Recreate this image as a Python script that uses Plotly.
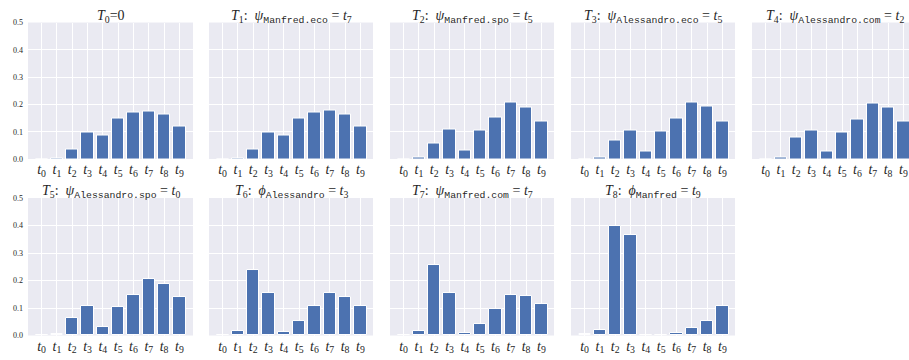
import plotly.graph_objects as go

# Bar categories t0..t9 and the probability distribution for each panel
categories = [f"t{i}" for i in range(10)]
tick_labels = [f"<i>t</i><sub>{i}</sub>" for i in range(10)]

T0 = [0.000, 0.002, 0.034, 0.096, 0.086, 0.148, 0.169, 0.175, 0.163, 0.120]
T1 = [0.000, 0.003, 0.033, 0.096, 0.087, 0.149, 0.170, 0.176, 0.163, 0.120]
T2 = [0.000, 0.006, 0.057, 0.108, 0.031, 0.105, 0.151, 0.207, 0.189, 0.139]
T3 = [0.000, 0.006, 0.069, 0.106, 0.029, 0.099, 0.147, 0.206, 0.191, 0.139]
T4 = [0.000, 0.007, 0.077, 0.106, 0.028, 0.097, 0.146, 0.205, 0.189, 0.138]
T5 = [0.000, 0.006, 0.063, 0.109, 0.031, 0.103, 0.149, 0.205, 0.187, 0.139]
T6 = [0.002, 0.016, 0.239, 0.154, 0.012, 0.054, 0.106, 0.154, 0.140, 0.106]
T7 = [0.002, 0.016, 0.255, 0.155, 0.008, 0.043, 0.096, 0.148, 0.144, 0.114]
T8 = [0.004, 0.019, 0.397, 0.366, 0.000, 0.001, 0.008, 0.026, 0.053, 0.106]

TT = "font-family:'Liberation Mono', monospace"


def sub_tt(s):
    return f"<sub><span style=\"{TT}\">{s}</span></sub>"


titles = [
    "<i>T</i><sub>0</sub>=0",
    f"<i>T</i><sub>1</sub>:  <i>ψ</i>{sub_tt('Manfred.eco')} = <i>t</i><sub>7</sub>",
    f"<i>T</i><sub>2</sub>:  <i>ψ</i>{sub_tt('Manfred.spo')} = <i>t</i><sub>5</sub>",
    f"<i>T</i><sub>3</sub>:  <i>ψ</i>{sub_tt('Alessandro.eco')} = <i>t</i><sub>5</sub>",
    f"<i>T</i><sub>4</sub>:  <i>ψ</i>{sub_tt('Alessandro.com')} = <i>t</i><sub>2</sub>",
    f"<i>T</i><sub>5</sub>:  <i>ψ</i>{sub_tt('Alessandro.spo')} = <i>t</i><sub>0</sub>",
    f"<i>T</i><sub>6</sub>:  <i>ϕ</i>{sub_tt('Alessandro')} = <i>t</i><sub>3</sub>",
    f"<i>T</i><sub>7</sub>:  <i>ψ</i>{sub_tt('Manfred.com')} = <i>t</i><sub>7</sub>",
    f"<i>T</i><sub>8</sub>:  <i>ϕ</i>{sub_tt('Manfred')} = <i>t</i><sub>9</sub>",
]
series = [T0, T1, T2, T3, T4, T5, T6, T7, T8]

W, H = 909, 360
BAR = "#4C72B0"
BG = "#EAEAF2"
TXT = "#262626"
SERIF = "Liberation Serif, DejaVu Serif, serif"

# panel placement in pixels (left, right) per column and (top, bottom) per row
col_px = [(28, 193), (209, 373), (390, 554), (571, 735), (752, 917)]
row_px = [(19, 159), (199, 340)]

fig = go.Figure()
layout = {}
annotations = []
x_pos = list(range(len(categories)))
full_range = [-0.89, 9.89]
units_per_px = (full_range[1] - full_range[0]) / 165.0

for k, (vals, title) in enumerate(zip(series, titles)):
    r, c = divmod(k, 5)
    n = k + 1
    sfx = str(n) if n > 1 else ""
    left, right = col_px[c]
    top, bottom = row_px[r]
    right_c = min(right, W)
    xr = [full_range[0], full_range[0] + (right_c - left) * units_per_px]

    fig.add_trace(go.Bar(
        x=x_pos, y=vals, width=0.8,
        marker=dict(color=BAR, line=dict(color="white", width=1)),
        xaxis="x" + sfx, yaxis="y" + sfx,
        showlegend=False, hoverinfo="skip",
    ))
    layout["xaxis" + sfx] = dict(
        domain=[left / W, right_c / W], range=xr, anchor="y" + sfx,
        tickmode="array", tickvals=x_pos, ticktext=tick_labels,
        showgrid=True, gridcolor="white", gridwidth=1, zeroline=False,
        showline=False, ticks="", ticklen=0, ticklabelstandoff=0,
        tickfont=dict(family=SERIF, size=14, color=TXT),
        fixedrange=True,
    )
    layout["yaxis" + sfx] = dict(
        domain=[1 - bottom / H, 1 - top / H], range=[0, 0.5],
        anchor="x" + sfx,
        tickvals=[0, 0.1, 0.2, 0.3, 0.4, 0.5], tickformat=".1f",
        showticklabels=(c == 0),
        showgrid=True, gridcolor="white", gridwidth=1, zeroline=False,
        showline=False, ticks="", ticklen=0, ticklabelstandoff=4,
        tickfont=dict(family=SERIF, size=8, color=TXT),
        fixedrange=True,
    )
    annotations.append(dict(
        text=title, xref="paper", yref="paper",
        x=((left + right) / 2) / W, y=1 - (top - 6) / H,
        xanchor="center", yanchor="middle", showarrow=False,
        font=dict(family=SERIF, size=14, color=TXT),
    ))

fig.update_layout(
    width=W, height=H,
    margin=dict(l=0, r=0, t=0, b=0),
    paper_bgcolor="white", plot_bgcolor=BG,
    bargap=0, annotations=annotations,
    **layout,
)

fig.write_html("out.html", config={"displayModeBar": False})
